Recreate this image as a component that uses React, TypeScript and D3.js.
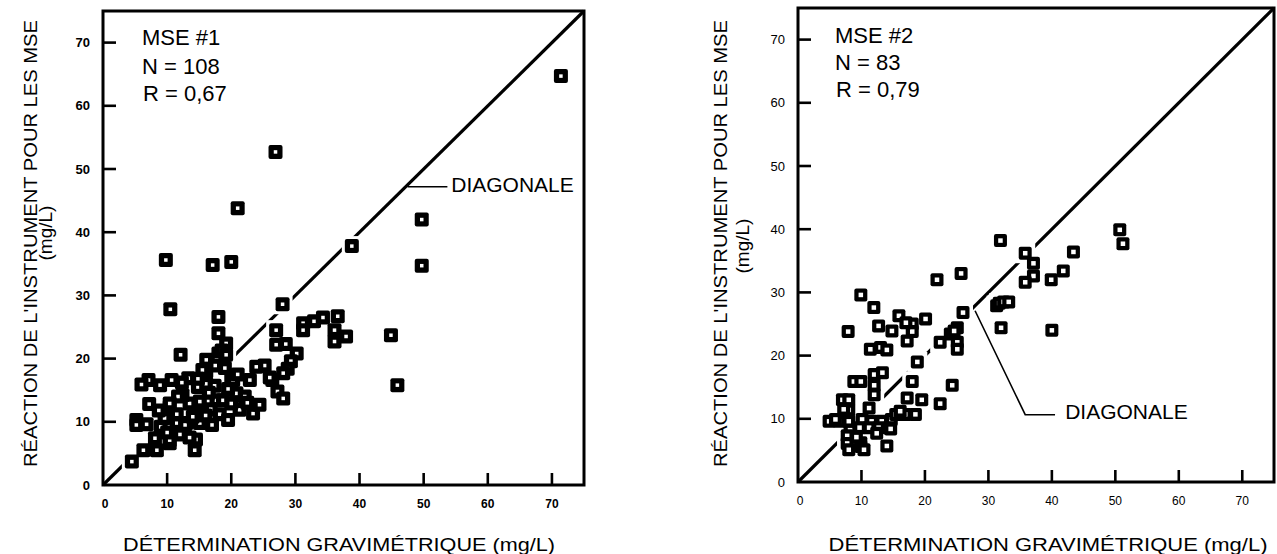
import React from "react";
import * as d3 from "d3";

const FONT = "'Liberation Sans', Arial, Helvetica, sans-serif";

// Shared axis values (mg/L)
const axisTicks = [0, 10, 20, 30, 40, 50, 60, 70];
const axisMax = 75;

// MSE #1 : [gravimetric determination, instrument response] (mg/L)
const mse1Points: [number, number][] = [
  [71.4, 64.7], [26.9, 52.7], [21.0, 43.8], [49.7, 42.0], [49.7, 34.7], [38.8, 37.8],
  [9.8, 35.6], [17.1, 34.8], [20.0, 35.3], [10.5, 27.8], [28.0, 28.6], [44.9, 23.7],
  [45.9, 15.8], [18.0, 26.6], [12.1, 20.6], [27.0, 24.5],
  [31.2, 25.6], [31.2, 24.5], [32.9, 25.9], [34.3, 26.5], [36.6, 26.7], [36.1, 24.5],
  [37.9, 23.5], [36.1, 22.7], [27.0, 22.2], [28.5, 22.3], [30.2, 20.8], [29.3, 19.6],
  [28.8, 18.4], [28.1, 17.7], [26.4, 16.6], [27.2, 14.8], [28.1, 13.7], [25.2, 18.9],
  [23.9, 18.7], [26.0, 17.0],
  [18.0, 24.0], [19.2, 22.4], [18.0, 20.8], [16.1, 19.8], [16.1, 17.9], [19.0, 18.5],
  [20.0, 16.8], [17.7, 19.8],
  [13.3, 16.9], [14.8, 15.5], [16.1, 16.0], [17.4, 15.7], [15.1, 13.2], [17.7, 13.4],
  [18.7, 13.4], [20.8, 14.5], [22.1, 14.0], [20.3, 16.6], [22.9, 16.6], [13.5, 12.9],
  [12.4, 14.2], [11.7, 14.0], [15.5, 11.5], [16.8, 12.0], [18.2, 11.2], [19.5, 10.3],
  [21.3, 11.9], [23.4, 11.3], [24.4, 12.7], [15.1, 9.8], [13.0, 9.8], [11.5, 9.8],
  [12.8, 9.5], [14.0, 10.8], [16.5, 14.6], [19.5, 15.2], [17.0, 9.5], [14.3, 5.5],
  [14.5, 7.2], [10.4, 6.6], [10.4, 7.1], [10.4, 12.4], [10.4, 12.9], [11.5, 11.2],
  [12.0, 8.0], [13.5, 7.5],
  [7.1, 16.6], [6.0, 15.9], [8.9, 15.8], [10.7, 16.6], [7.2, 12.8], [5.2, 10.3],
  [5.2, 9.5], [6.8, 9.6], [4.5, 3.7], [6.3, 5.5], [8.4, 5.5], [8.1, 7.4],
  [9.0, 9.2], [9.6, 10.6], [8.7, 11.8], [10.0, 8.3], [12.3, 16.2],
  [18.5, 21.3], [19.2, 20.6], [17.5, 18.9], [21.0, 17.5], [15.5, 18.2], [20.0, 12.9],
  [22.5, 13.0], [14.8, 16.8], [16.0, 11.0],
];

// MSE #2 : [gravimetric determination, instrument response] (mg/L)
const mse2Points: [number, number][] = [
  [50.7, 39.9], [51.2, 37.7], [31.9, 38.2], [43.4, 36.4], [35.8, 36.2], [37.1, 34.6],
  [41.8, 33.4], [37.1, 32.6], [35.8, 31.6], [39.9, 32.0], [25.7, 33.0], [21.9, 32.0],
  [31.3, 27.9], [31.7, 28.3], [32.4, 28.5], [33.2, 28.5], [32.0, 24.4], [40.0, 24.0],
  [26.0, 26.8],
  [9.9, 29.6], [11.95, 27.6], [7.9, 23.8], [12.7, 24.7], [14.8, 23.9], [15.9, 26.3],
  [18.0, 25.0], [20.1, 25.8], [17.2, 22.3], [18.0, 23.8], [11.4, 21.0], [13.0, 21.3],
  [14.0, 20.9], [17.0, 25.2],
  [25.1, 24.4], [24.0, 23.4], [22.4, 22.1], [25.1, 22.1], [25.1, 21.0], [18.8, 19.0],
  [18.0, 15.9], [24.3, 15.3], [22.4, 12.4], [19.5, 13.0], [17.2, 13.3], [16.9, 10.7],
  [18.5, 10.7], [24.6, 23.9],
  [8.8, 15.9], [9.9, 15.9], [12.0, 17.0], [13.3, 17.3], [12.0, 15.3], [12.0, 13.8],
  [7.0, 13.0], [8.0, 13.0], [8.0, 11.4], [11.2, 11.7], [4.9, 9.6], [6.5, 9.6],
  [8.0, 9.6], [10.1, 9.9], [11.6, 9.6], [13.2, 9.6], [14.7, 9.9], [15.4, 10.7],
  [14.3, 8.6], [12.7, 8.6], [11.2, 8.6], [9.7, 8.6], [8.2, 8.2], [7.75, 7.3],
  [7.75, 6.1], [9.9, 6.2], [9.9, 5.6], [9.2, 7.1], [14.0, 5.7], [7.2, 11.5],
  [16.1, 11.2], [10.4, 5.1], [8.0, 5.1], [12.4, 7.7], [14.6, 8.4], [5.9, 9.9],
];

const mse1Stats = ["MSE #1", "N = 108", "R = 0,67"];
const mse2Stats = ["MSE #2", "N = 83", "R = 0,79"];

const xTitle = "DÉTERMINATION GRAVIMÉTRIQUE (mg/L)";
const yTitle = "RÉACTION DE L'INSTRUMENT POUR LES MSE";
const yUnit = "(mg/L)";
const diagLabel = "DIAGONALE";

type Frame = { left: number; right: number; top: number; bottom: number };

type PanelProps = {
  points: [number, number][];
  stats: string[];
  frame: Frame;
  bold: boolean;
  markerSize: number;
  markerHole: number;
  // leader line for the diagonal label, in data units
  leader: [number, number][];
  labelAt: [number, number];
  yTitleX: number;
  yUnitX: number;
  yUnitCenter: number;
  xTitleCenter: number;
  xTitleLength: number;
  statsDx: number;
  statsY: number[];
};

function Panel(p: PanelProps) {
  const { frame } = p;
  const x = d3.scaleLinear().domain([0, axisMax]).range([frame.left, frame.right]);
  const y = d3.scaleLinear().domain([0, axisMax]).range([frame.bottom, frame.top]);
  const weight = p.bold ? 700 : 400;
  const half = p.markerSize / 2;
  const halo = 10;
  const line = d3.line<[number, number]>().x((d) => x(d[0])).y((d) => y(d[1]));

  return (
    <g>
      {/* diagonal y = x */}
      <line x1={x(0)} y1={y(0)} x2={x(axisMax)} y2={y(axisMax)} stroke="#000" strokeWidth={3.2} />
      {/* white margins that interrupt the diagonal around each marker */}
      {p.points.map((d, i) => (
        <rect key={"h" + i} x={x(d[0]) - halo} y={y(d[1]) - halo} width={halo * 2} height={halo * 2} fill="#fff" />
      ))}
      <path d={line(p.leader) || ""} fill="none" stroke="#000" strokeWidth={1.6} />
      {/* markers */}
      {p.points.map((d, i) => (
        <g key={"m" + i}>
          <rect x={x(d[0]) - half} y={y(d[1]) - half} width={p.markerSize} height={p.markerSize} rx={2} fill="#000" />
          <rect
            x={x(d[0]) - p.markerHole / 2}
            y={y(d[1]) - p.markerHole / 2}
            width={p.markerHole}
            height={p.markerHole}
            fill="#fff"
          />
        </g>
      ))}
      {/* frame */}
      <rect
        x={frame.left}
        y={frame.top}
        width={frame.right - frame.left}
        height={frame.bottom - frame.top}
        fill="none"
        stroke="#000"
        strokeWidth={3}
      />
      {/* ticks */}
      {axisTicks.filter((t) => t > 0).map((t) => (
        <g key={"t" + t}>
          <line x1={frame.left} x2={frame.left + 13} y1={y(t)} y2={y(t)} stroke="#000" strokeWidth={2.6} />
          <line x1={x(t)} x2={x(t)} y1={frame.bottom} y2={frame.bottom - 12} stroke="#000" strokeWidth={2.6} />
        </g>
      ))}
      {/* tick labels */}
      {axisTicks.map((t) => (
        <text
          key={"yl" + t}
          x={frame.left - 13}
          y={y(t)}
          dy="0.35em"
          textAnchor="end"
          fontSize={13}
          fontWeight={weight}
          fontFamily={FONT}
        >
          {t}
        </text>
      ))}
      {axisTicks.map((t) => (
        <text
          key={"xl" + t}
          x={x(t) + (t === 0 ? 2 : 0)}
          y={frame.bottom + 23}
          textAnchor="middle"
          fontSize={12}
          fontWeight={weight}
          fontFamily={FONT}
        >
          {t}
        </text>
      ))}
      {/* axis titles */}
      <text
        x={p.xTitleCenter}
        y={551}
        textAnchor="middle"
        fontSize={19}
        fontFamily={FONT}
        textLength={p.xTitleLength}
        lengthAdjust="spacingAndGlyphs"
      >
        {xTitle}
      </text>
      <text
        transform={`translate(${p.yTitleX},243.5) rotate(-90)`}
        textAnchor="middle"
        fontSize={19}
        fontFamily={FONT}
        textLength={447}
        lengthAdjust="spacingAndGlyphs"
      >
        {yTitle}
      </text>
      <text
        transform={`translate(${p.yUnitX},${p.yUnitCenter}) rotate(-90)`}
        textAnchor="middle"
        fontSize={19}
        fontFamily={FONT}
      >
        {yUnit}
      </text>
      {/* statistics */}
      {p.stats.map((s, i) => (
        <text key={"s" + i} x={frame.left + p.statsDx + (i === 2 ? 1 : 0)} y={p.statsY[i]} fontSize={22} fontFamily={FONT}>
          {s}
        </text>
      ))}
      <text x={x(p.labelAt[0])} y={y(p.labelAt[1])} fontSize={21} fontFamily={FONT}>
        {diagLabel}
      </text>
    </g>
  );
}

export default function App() {
  return (
    <svg
      width={1277}
      height={554}
      viewBox="0 0 1277 554"
      style={{ position: "absolute", left: 0, top: 0, background: "#fff" }}
    >
      <rect width={1277} height={554} fill="#fff" />
      <Panel
        points={mse1Points}
        stats={mse1Stats}
        frame={{ left: 103, right: 584, top: 11, bottom: 485 }}
        bold={true}
        markerSize={14}
        markerHole={3.5}
        leader={[[47.5, 47.2], [53.7, 47.2]]}
        labelAt={[54.3, 46.4]}
        yTitleX={37}
        yUnitX={52}
        yUnitCenter={233}
        xTitleCenter={339}
        xTitleLength={432}
        statsDx={39}
        statsY={[45, 74, 101]}
      />
      <Panel
        points={mse2Points}
        stats={mse2Stats}
        frame={{ left: 798, right: 1274, top: 8, bottom: 482 }}
        bold={false}
        markerSize={13}
        markerHole={4.5}
        leader={[[27.9, 27.1], [35.8, 10.65], [40.5, 10.65]]}
        labelAt={[42.1, 9.9]}
        yTitleX={727}
        yUnitX={749}
        yUnitCenter={246}
        xTitleCenter={1048}
        xTitleLength={439}
        statsDx={37}
        statsY={[43, 70, 97]}
      />
    </svg>
  );
}
